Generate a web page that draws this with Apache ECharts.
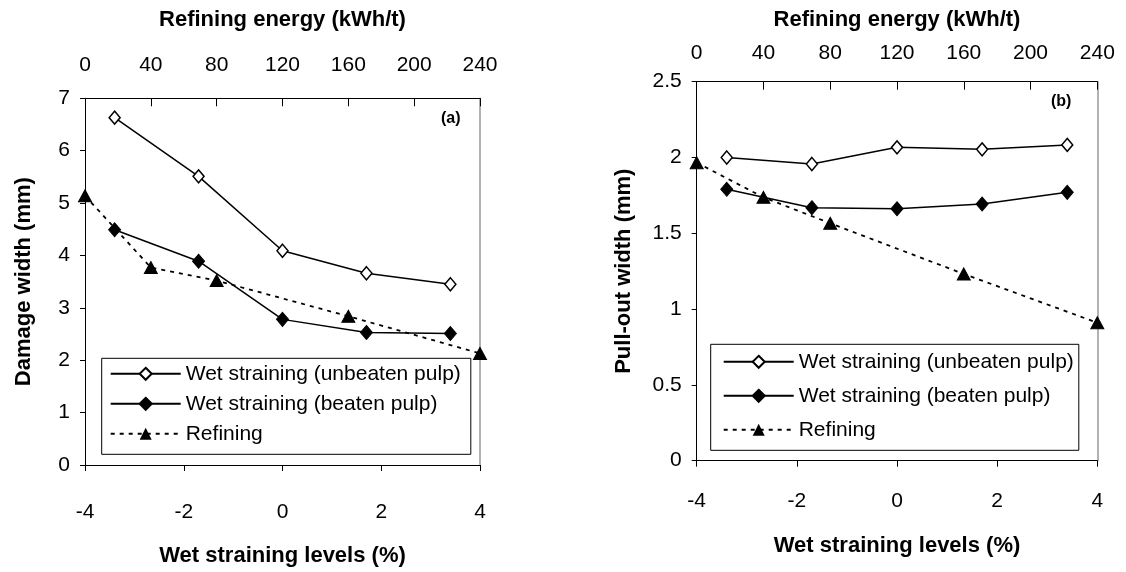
<!DOCTYPE html>
<html>
<head>
<meta charset="utf-8">
<script src="https://cdn.jsdelivr.net/npm/echarts@6/dist/echarts.min.js"></script>
<style>html,body{margin:0;padding:0;background:#fff}#c{width:1126px;height:572px}</style>
</head>
<body>
<div id="c"></div>
<script>
// ---- data ----
const seriesNames = ['Wet straining (unbeaten pulp)', 'Wet straining (beaten pulp)', 'Refining'];
const wetLevels = [-3.4, -1.7, 0, 1.7, 3.4];
const refiningEnergy = [0, 40, 80, 160, 240];
const damageUnbeaten = [6.63, 5.51, 4.09, 3.66, 3.45];
const damageBeaten = [4.49, 3.89, 2.78, 2.53, 2.51];
const damageRefining = [5.14, 3.77, 3.52, 2.84, 2.13];
const pulloutUnbeaten = [2.00, 1.957, 2.067, 2.054, 2.083];
const pulloutBeaten = [1.79, 1.669, 1.662, 1.693, 1.77];
const pulloutRefining = [1.966, 1.737, 1.566, 1.232, 0.91];
const xTitle = 'Wet straining levels (%)';
const topTitle = 'Refining energy (kWh/t)';
const yTitles = ['Damage width (mm)', 'Pull-out width (mm)'];
const panelLabels = ['(a)', '(b)'];

const pairs = (xs, ys) => xs.map((x, i) => [x, ys[i]]);
const FONT = "'Liberation Sans', Arial, sans-serif";

const grids = [
  {left: 85, top: 98.3, width: 395, height: 373.4},
  {left: 696.7, top: 81.7, width: 400.6, height: 379}
];

function bottomAxis(gi, labelMargin, nameGap) {
  return {
    type: 'value', gridIndex: gi, position: 'bottom', min: -4, max: 4, interval: 2,
    name: xTitle, nameLocation: 'middle', nameGap: nameGap,
    nameTextStyle: {fontFamily: FONT, fontSize: 22, fontWeight: 'bold', color: '#000'},
    axisLine: {show: true, onZero: false, lineStyle: {color: '#000', width: 1}},
    axisTick: {show: true, inside: false, length: 6, lineStyle: {color: '#000'}},
    axisLabel: {fontFamily: FONT, fontSize: 21, color: '#000', margin: labelMargin},
    splitLine: {show: false}
  };
}
function topAxis(gi, labelMargin, nameGap) {
  return {
    type: 'value', gridIndex: gi, position: 'top', min: 0, max: 240, interval: 40,
    name: topTitle, nameLocation: 'middle', nameGap: nameGap,
    nameTextStyle: {fontFamily: FONT, fontSize: 22, fontWeight: 'bold', color: '#000'},
    axisLine: {show: true, onZero: false, lineStyle: {color: '#000', width: 1}},
    axisTick: {show: true, inside: true, length: 8, lineStyle: {color: '#000'}},
    axisLabel: {fontFamily: FONT, fontSize: 21, color: '#000', margin: labelMargin},
    splitLine: {show: false}
  };
}
function leftAxis(gi, max, interval, name, nameGap) {
  return {
    type: 'value', gridIndex: gi, position: 'left', min: 0, max: max, interval: interval,
    name: name, nameLocation: 'middle', nameGap: nameGap,
    nameTextStyle: {fontFamily: FONT, fontSize: 22, fontWeight: 'bold', color: '#000'},
    axisLine: {show: true, onZero: false, lineStyle: {color: '#000', width: 1}},
    axisTick: {show: true, inside: false, length: 5, lineStyle: {color: '#000'}},
    axisLabel: {fontFamily: FONT, fontSize: 21, color: '#000', margin: 15},
    splitLine: {show: false}
  };
}
function rightBorder(gi, max) {
  return {
    type: 'value', gridIndex: gi, position: 'right', min: 0, max: max,
    axisLine: {show: true, onZero: false, lineStyle: {color: '#999', width: 1.5}},
    axisTick: {show: false}, axisLabel: {show: false}, splitLine: {show: false}
  };
}

function unbeaten(xi, yi, data) {
  return {name: seriesNames[0], type: 'line', xAxisIndex: xi, yAxisIndex: yi, data: data,
    symbol: 'diamond', symbolSize: [11, 13], clip: false, z: 4,
    lineStyle: {color: '#000', width: 1.5},
    itemStyle: {color: '#fff', borderColor: '#000', borderWidth: 1.5}};
}
function beaten(xi, yi, data) {
  return {name: seriesNames[1], type: 'line', xAxisIndex: xi, yAxisIndex: yi, data: data,
    symbol: 'diamond', symbolSize: [12, 14], clip: false, z: 4,
    lineStyle: {color: '#000', width: 1.5},
    itemStyle: {color: '#000', borderColor: '#000', borderWidth: 1}};
}
function refining(xi, yi, data) {
  return {name: seriesNames[2], type: 'line', xAxisIndex: xi, yAxisIndex: yi, data: data,
    symbol: 'triangle', symbolSize: [13, 12], clip: false, z: 3,
    lineStyle: {color: '#000', width: 1.8, type: [4, 5]},
    itemStyle: {color: '#000', borderColor: '#000'}};
}

const option = {
  backgroundColor: '#fff',
  animation: false,
  title: [
    {text: panelLabels[0], left: 436, top: 106, textStyle: {fontFamily: FONT, fontSize: 16, fontWeight: 'bold', color: '#000'}},
    {text: panelLabels[1], left: 1046, top: 89, textStyle: {fontFamily: FONT, fontSize: 16, fontWeight: 'bold', color: '#000'}}
  ],
  grid: grids,
  xAxis: [
    bottomAxis(0, 37, 80),
    topAxis(0, 23, 67),
    bottomAxis(1, 30, 74),
    topAxis(1, 18, 51)
  ],
  yAxis: [
    leftAxis(0, 7, 1, yTitles[0], 50),
    rightBorder(0, 7),
    leftAxis(1, 2.5, 0.5, yTitles[1], 62),
    rightBorder(1, 2.5)
  ],
  legend: [
    {data: seriesNames, orient: 'vertical', left: 101.7, top: 358.3,
     padding: [5, 10, 10, 8], itemGap: 9, itemWidth: 70, itemHeight: 15,
     borderColor: '#000', borderWidth: 1, backgroundColor: '#fff',
     textStyle: {fontFamily: FONT, fontSize: 21, color: '#000'}, selectedMode: false},
    {data: seriesNames, orient: 'vertical', left: 710.7, top: 344.3,
     padding: [7, 5, 10, 12], itemGap: 13, itemWidth: 70, itemHeight: 15,
     borderColor: '#000', borderWidth: 1, backgroundColor: '#fff',
     textStyle: {fontFamily: FONT, fontSize: 21, color: '#000'}, selectedMode: false}
  ],
  series: [
    unbeaten(0, 0, pairs(wetLevels, damageUnbeaten)),
    beaten(0, 0, pairs(wetLevels, damageBeaten)),
    refining(1, 0, pairs(refiningEnergy, damageRefining)),
    unbeaten(2, 2, pairs(wetLevels, pulloutUnbeaten)),
    beaten(2, 2, pairs(wetLevels, pulloutBeaten)),
    refining(3, 2, pairs(refiningEnergy, pulloutRefining))
  ]
};
const chart = echarts.init(document.getElementById('c'), null, {renderer: 'canvas'});
chart.setOption(option);
</script>
</body>
</html>
